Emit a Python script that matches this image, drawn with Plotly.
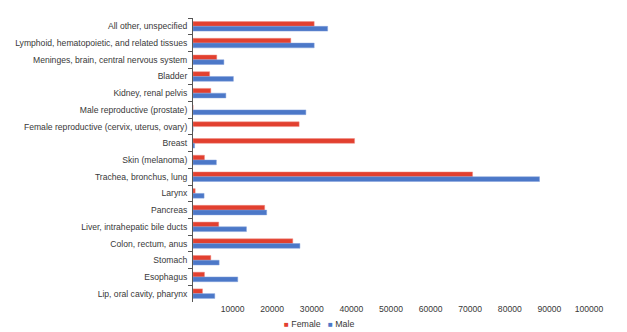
import plotly.graph_objects as go

# Cancer sites, listed top to bottom
sites = [
    "All other, unspecified",
    "Lymphoid, hematopoietic, and related tissues",
    "Meninges, brain, central nervous system",
    "Bladder",
    "Kidney, renal pelvis",
    "Male reproductive (prostate)",
    "Female reproductive (cervix, uterus, ovary)",
    "Breast",
    "Skin (melanoma)",
    "Trachea, bronchus, lung",
    "Larynx",
    "Pancreas",
    "Liver, intrahepatic bile ducts",
    "Colon, rectum, anus",
    "Stomach",
    "Esophagus",
    "Lip, oral cavity, pharynx",
]

female = [30600, 24700, 6000, 4200, 4500, 0, 26800, 40800, 2900, 70600,
          550, 18100, 6500, 25200, 4500, 2900, 2400]
male = [34000, 30600, 7800, 10200, 8300, 28500, 0, 400, 5900, 87500,
        2800, 18600, 13500, 27000, 6600, 11300, 5500]

x_ticks = [10000, 20000, 30000, 40000, 50000, 60000, 70000, 80000, 90000, 100000]

RED = "#E2402F"
BLUE = "#4C78C8"
TEXT = "#383838"
FONT = "Liberation Sans, Arial, sans-serif"

series = [("Female", female, RED, "rgba(240,140,130,0.6)"),
          ("Male", male, BLUE, "rgba(130,160,220,0.6)")]

fig = go.Figure()
for name, values, color, edge in series:
    fig.add_trace(go.Bar(
        y=sites, x=values, name=name, orientation="h",
        marker=dict(color=color, line=dict(color=edge, width=0.8)),
        showlegend=False,
    ))

# compact key below the axis: small coloured square followed by the series name
key = "&nbsp;&nbsp;&nbsp;".join(
    f"<span style='color:{color};font-size:8px'>■</span> {name}"
    for name, _, color, _ in series
)
fig.add_annotation(
    text=key, xref="paper", yref="paper", x=0.319, y=-0.077,
    xanchor="center", yanchor="middle", showarrow=False,
    font=dict(family=FONT, size=8.8, color=TEXT),
)

fig.update_layout(
    width=627, height=332,
    margin=dict(l=193, r=38, t=18, b=30, autoexpand=False),
    paper_bgcolor="white", plot_bgcolor="white",
    barmode="group", bargap=0.43, bargroupgap=0,
    font=dict(family=FONT, size=8.6, color=TEXT),
    xaxis=dict(
        range=[0, 100000], tickvals=x_ticks,
        ticktext=[str(v) for v in x_ticks],
        showgrid=False, zeroline=False, showline=False, ticks="",
        tickfont=dict(family=FONT, size=8.6, color=TEXT),
    ),
    yaxis=dict(
        autorange="reversed", showgrid=False, zeroline=False,
        showline=True, linecolor="#555555", linewidth=1,
        ticks="outside", ticklen=4, tickcolor="#555555", tickson="boundaries",
        ticklabelstandoff=3,
        tickfont=dict(family=FONT, size=8.6, color=TEXT),
    ),
)

fig.write_html("out.html")
